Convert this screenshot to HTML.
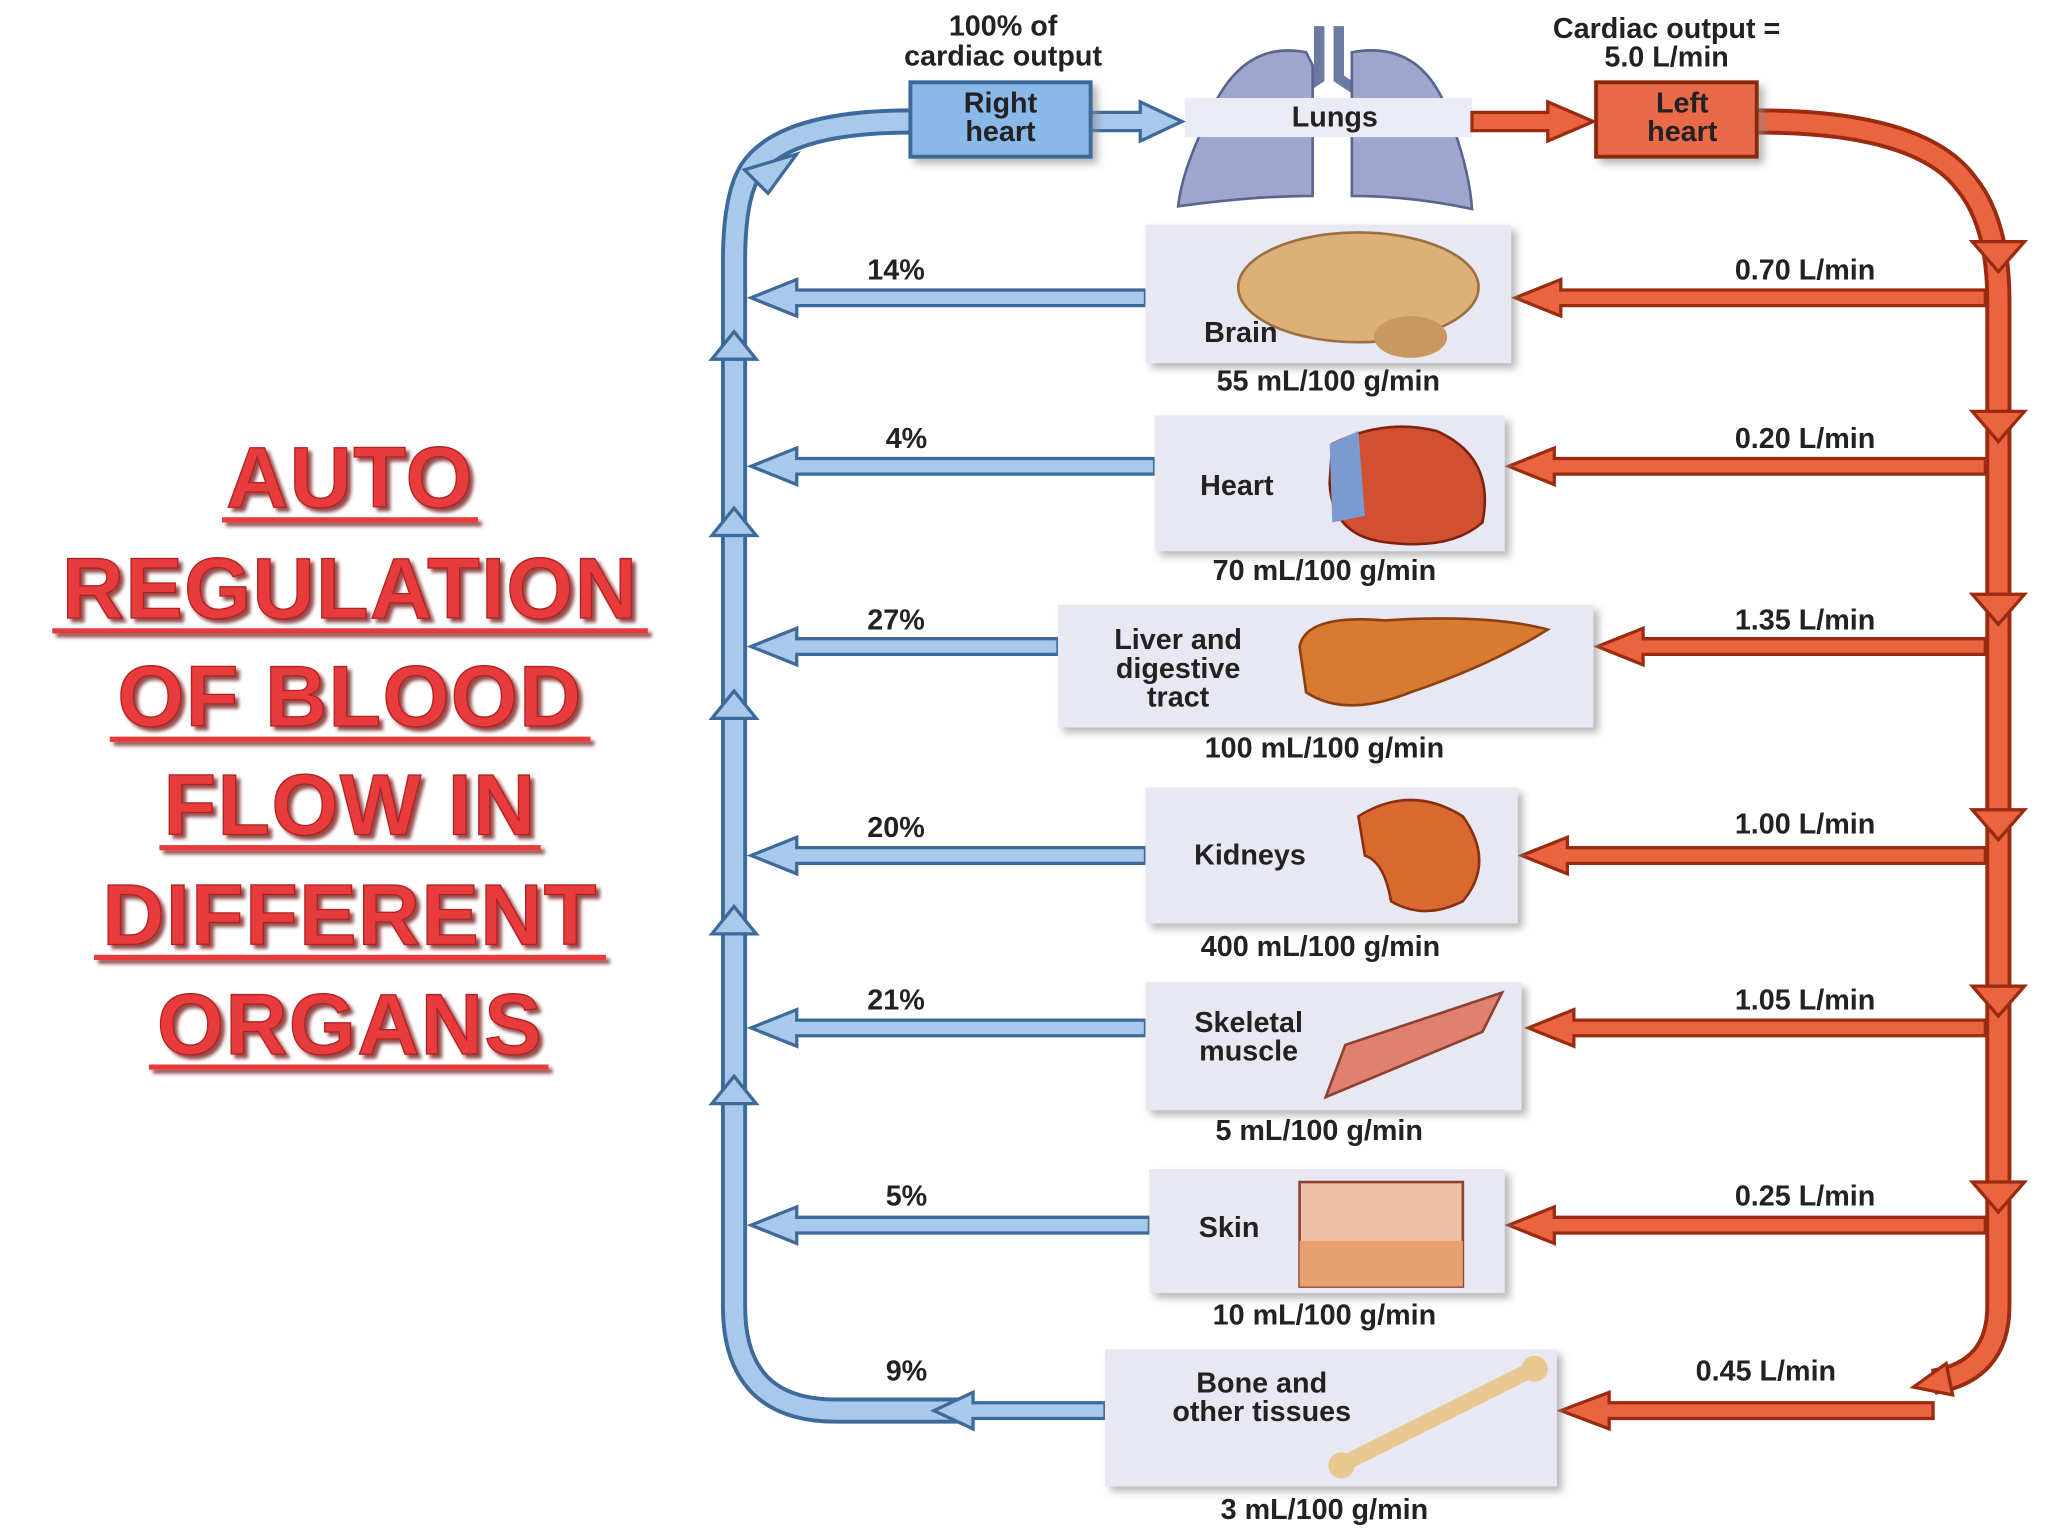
<!DOCTYPE html>
<html><head><meta charset="utf-8"><style>
html,body{margin:0;padding:0;background:#fff;width:2048px;height:1536px;overflow:hidden}
svg{display:block}
text{font-family:"Liberation Sans",sans-serif;font-weight:bold;fill:#222}
.t{font-size:22px;text-anchor:middle}
.title{font-size:66px;fill:#e83a3a;text-anchor:middle;stroke:#b02020;stroke-width:1;letter-spacing:1px}
</style></head><body>
<svg width="2048" height="1536" viewBox="0 0 1568 1176" xmlns="http://www.w3.org/2000/svg">
<defs>
<filter id="sh" x="-10%" y="-10%" width="130%" height="130%"><feDropShadow dx="4" dy="4" stdDeviation="3" flood-color="#888" flood-opacity="0.6"/></filter>
<filter id="ts"><feDropShadow dx="3" dy="3" stdDeviation="1.5" flood-color="#600" flood-opacity="0.7"/></filter>
</defs>
<!-- Title -->
<g filter="url(#ts)">
<text class="title" x="268" y="388">AUTO</text>
<text class="title" x="268" y="473">REGULATION</text>
<text class="title" x="268" y="556">OF BLOOD</text>
<text class="title" x="268" y="639">FLOW IN</text>
<text class="title" x="268" y="723">DIFFERENT</text>
<text class="title" x="268" y="807">ORGANS</text>
<g fill="#e83a3a">
<rect x="170" y="396" width="196" height="4"/>
<rect x="40" y="481" width="456" height="4"/>
<rect x="84" y="564" width="368" height="4"/>
<rect x="122" y="647" width="292" height="4"/>
<rect x="72" y="731" width="392" height="4"/>
<rect x="114" y="815" width="306" height="4"/>
</g></g>

<!-- Blue loop -->
<path d="M698 93 Q600 93 575 130 Q562 150 562 200 L562 1000 Q562 1080 640 1080 L740 1080" fill="none" stroke="#3d6a9a" stroke-width="20"/>
<path d="M698 93 Q600 93 575 130 Q562 150 562 200 L562 1000 Q562 1080 640 1080 L740 1080" fill="none" stroke="#a8c8ec" stroke-width="14"/>
<g fill="#a8c8ec" stroke="#3d6a9a" stroke-width="2.5">
<polygon points="570,130 610,118 588,148"/>
<polygon points="545,275 562,254 579,275"/><polygon points="545,410 562,389 579,410"/>
<polygon points="545,550 562,529 579,550"/><polygon points="545,715 562,694 579,715"/>
<polygon points="545,845 562,824 579,845"/>
<path d="M846 1074 L745 1074 L745 1066 L715 1080 L745 1094 L745 1086 L846 1086 Z"/>
</g>
<!-- blue branch arrows -->
<g stroke="#3d6a9a" stroke-width="2.5" fill="#a8c8ec">
<path d="M877 222 L610 222 L610 214 L575 228 L610 242 L610 234 L877 234 Z"/>
<path d="M884 351 L610 351 L610 343 L575 357 L610 371 L610 363 L884 363 Z"/>
<path d="M810 489 L610 489 L610 481 L575 495 L610 509 L610 501 L810 501 Z"/>
<path d="M877 649 L610 649 L610 641 L575 655 L610 669 L610 661 L877 661 Z"/>
<path d="M877 781 L610 781 L610 773 L575 787 L610 801 L610 793 L877 793 Z"/>
<path d="M880 932 L610 932 L610 924 L575 938 L610 952 L610 944 L880 944 Z"/>
</g>

<!-- Red loop -->
<path d="M1345 93 Q1470 93 1505 140 Q1530 170 1530 230 L1530 1000 Q1530 1050 1480 1058" fill="none" stroke="#9a2a10" stroke-width="20"/>
<path d="M1345 93 Q1470 93 1505 140 Q1530 170 1530 230 L1530 1000 Q1530 1050 1480 1058" fill="none" stroke="#ea6440" stroke-width="14"/>
<g fill="#ea6440" stroke="#9a2a10" stroke-width="2.5">
<polygon points="1510,185 1550,185 1530,208"/><polygon points="1510,315 1550,315 1530,338"/>
<polygon points="1510,455 1550,455 1530,478"/><polygon points="1510,620 1550,620 1530,643"/>
<polygon points="1510,755 1550,755 1530,778"/><polygon points="1510,905 1550,905 1530,928"/>
<polygon points="1490,1044 1465,1062 1495,1068"/>
<path d="M1520 222 L1195 222 L1195 214 L1160 228 L1195 242 L1195 234 L1520 234 Z"/>
<path d="M1520 351 L1190 351 L1190 343 L1155 357 L1190 371 L1190 363 L1520 363 Z"/>
<path d="M1520 489 L1258 489 L1258 481 L1223 495 L1258 509 L1258 501 L1520 501 Z"/>
<path d="M1520 649 L1200 649 L1200 641 L1165 655 L1200 669 L1200 661 L1520 661 Z"/>
<path d="M1520 781 L1205 781 L1205 773 L1170 787 L1205 801 L1205 793 L1520 793 Z"/>
<path d="M1520 932 L1190 932 L1190 924 L1155 938 L1190 952 L1190 944 L1520 944 Z"/>
<path d="M1480 1074 L1232 1074 L1232 1066 L1195 1080 L1232 1094 L1232 1086 L1480 1086 Z"/>
</g>

<!-- Top -->
<text class="t" x="768" y="27">100% of</text>
<text class="t" x="768" y="50">cardiac output</text>
<text class="t" x="1276" y="29">Cardiac output =</text>
<text class="t" x="1276" y="51">5.0 L/min</text>
<!-- lungs -->
<path d="M1010 20 L1010 60 L980 80" stroke="#6a7aa0" stroke-width="8" fill="none"/>
<path d="M1025 20 L1025 60 L1055 80" stroke="#6a7aa0" stroke-width="8" fill="none"/>
<path d="M1000 40 Q950 30 925 90 Q905 130 902 158 Q960 150 1005 150 L1005 50 Z" fill="#9ea6cc" stroke="#5a6490" stroke-width="2"/>
<path d="M1035 40 Q1090 30 1110 90 Q1125 130 1127 160 Q1080 150 1035 150 L1035 50 Z" fill="#9ea6cc" stroke="#5a6490" stroke-width="2"/>
<rect x="907" y="75" width="220" height="30" fill="#ebebf5"/>
<text class="t" x="1022" y="97">Lungs</text>
<g fill="#a8c8ec" stroke="#3d6a9a" stroke-width="2.5"><path d="M835 86 L873 86 L873 78 L905 93 L873 108 L873 100 L835 100 Z"/></g>
<g fill="#ea6440" stroke="#9a2a10" stroke-width="2.5"><path d="M1127 86 L1185 86 L1185 78 L1220 93 L1185 108 L1185 100 L1127 100 Z"/></g>
<rect x="697" y="63" width="138" height="57" fill="#8ab8e8" stroke="#3d6a9a" stroke-width="3" filter="url(#sh)"/>
<text class="t" x="766" y="86">Right</text><text class="t" x="766" y="108">heart</text>
<rect x="1222" y="63" width="123" height="57" fill="#e86a48" stroke="#8a2a10" stroke-width="3" filter="url(#sh)"/>
<text class="t" x="1288" y="86">Left</text><text class="t" x="1288" y="108">heart</text>

<!-- Boxes -->
<g fill="#e8e8f2" filter="url(#sh)">
<rect x="877" y="172" width="280" height="106"/>
<rect x="884" y="318" width="268" height="104"/>
<rect x="810" y="463" width="410" height="94"/>
<rect x="877" y="603" width="285" height="104"/>
<rect x="877" y="752" width="288" height="98"/>
<rect x="880" y="895" width="272" height="95"/>
<rect x="846" y="1033" width="346" height="105"/>
</g>
<!-- organ images -->
<ellipse cx="1040" cy="220" rx="92" ry="42" fill="#ddb07a" stroke="#9a7040" stroke-width="2"/>
<ellipse cx="1080" cy="258" rx="28" ry="16" fill="#c89860"/>
<path d="M1020 340 Q1060 320 1100 330 Q1145 350 1135 400 Q1110 422 1060 415 Q1020 410 1018 370 Z" fill="#d05030" stroke="#802010" stroke-width="2"/>
<path d="M1018 340 L1040 330 L1045 395 L1020 400 Z" fill="#7a9ad0"/>
<path d="M995 495 Q1000 470 1060 475 Q1140 470 1185 482 Q1140 510 1080 530 Q1030 550 1000 530 Z" fill="#d87a30" stroke="#8a4010" stroke-width="2"/>
<path d="M1040 625 Q1080 600 1120 625 Q1145 660 1120 690 Q1090 705 1065 690 Q1060 660 1045 655 Z" fill="#d86a30" stroke="#8a3010" stroke-width="2"/>
<path d="M1015 840 L1030 800 L1150 760 L1135 790 Z" fill="#e08070" stroke="#904030" stroke-width="2"/>
<rect x="995" y="905" width="125" height="80" fill="#f0c0a8" stroke="#904030" stroke-width="2"/>
<rect x="995" y="950" width="125" height="35" fill="#e8a070"/>
<path d="M1030 1120 L1170 1050" stroke="#e8c890" stroke-width="12"/>
<circle cx="1175" cy="1048" r="10" fill="#e8c890"/><circle cx="1027" cy="1122" r="10" fill="#e8c890"/>

<!-- Box labels -->
<text class="t" x="950" y="262">Brain</text>
<text class="t" x="947" y="379">Heart</text>
<text class="t" x="902" y="497">Liver and</text><text class="t" x="902" y="519">digestive</text><text class="t" x="902" y="541">tract</text>
<text class="t" x="957" y="662">Kidneys</text>
<text class="t" x="956" y="790">Skeletal</text><text class="t" x="956" y="812">muscle</text>
<text class="t" x="941" y="947">Skin</text>
<text class="t" x="966" y="1066">Bone and</text><text class="t" x="966" y="1088">other tissues</text>
<!-- rates below -->
<text class="t" x="1017" y="299">55 mL/100 g/min</text>
<text class="t" x="1014" y="444">70 mL/100 g/min</text>
<text class="t" x="1014" y="580">100 mL/100 g/min</text>
<text class="t" x="1011" y="732">400 mL/100 g/min</text>
<text class="t" x="1010" y="873">5 mL/100 g/min</text>
<text class="t" x="1014" y="1014">10 mL/100 g/min</text>
<text class="t" x="1014" y="1163">3 mL/100 g/min</text>
<!-- percents -->
<text class="t" x="686" y="214">14%</text>
<text class="t" x="694" y="343">4%</text>
<text class="t" x="686" y="482">27%</text>
<text class="t" x="686" y="641">20%</text>
<text class="t" x="686" y="773">21%</text>
<text class="t" x="694" y="923">5%</text>
<text class="t" x="694" y="1057">9%</text>
<!-- L/min -->
<text class="t" x="1382" y="214">0.70 L/min</text>
<text class="t" x="1382" y="343">0.20 L/min</text>
<text class="t" x="1382" y="482">1.35 L/min</text>
<text class="t" x="1382" y="638">1.00 L/min</text>
<text class="t" x="1382" y="773">1.05 L/min</text>
<text class="t" x="1382" y="923">0.25 L/min</text>
<text class="t" x="1352" y="1057">0.45 L/min</text>
</svg>
</body></html>
